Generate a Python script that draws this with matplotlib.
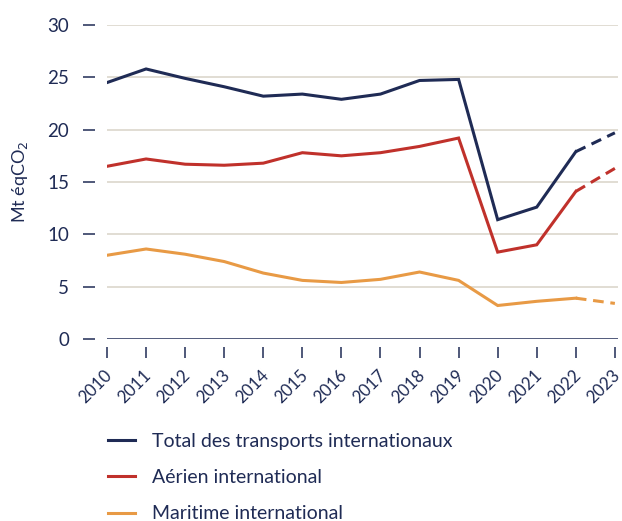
import numpy as np
import matplotlib
matplotlib.use('Agg')
import matplotlib.pyplot as plt
import matplotlib.transforms as mtransforms
from matplotlib.lines import Line2D

years = [2010, 2011, 2012, 2013, 2014, 2015, 2016, 2017, 2018, 2019, 2020, 2021, 2022, 2023]
total = [24.5, 25.8, 24.9, 24.1, 23.2, 23.4, 22.9, 23.4, 24.7, 24.8, 11.4, 12.6, 17.9, 19.7]
aerien = [16.5, 17.2, 16.7, 16.6, 16.8, 17.8, 17.5, 17.8, 18.4, 19.2, 8.3, 9.0, 14.1, 16.3]
maritime = [8.0, 8.6, 8.1, 7.4, 6.3, 5.6, 5.4, 5.7, 6.4, 5.6, 3.2, 3.6, 3.9, 3.4]
labels = ['Total des transports internationaux', 'Aérien international', 'Maritime international']

navy = '#1f2b55'
colors = ['#1f2b55', '#c0312b', '#e89a45']
plt.rcParams['font.family'] = ['Lato', 'DejaVu Sans']

fig = plt.figure(figsize=(6.22, 5.21), dpi=100)
ax = fig.add_axes([107/622, 1-339/521, (618-107)/622, (339-25)/521])

n = len(years) - 1  # last point is dashed
for vals, c in zip([total, aerien, maritime], colors):
    ax.plot(years[:n], vals[:n], color=c, lw=2.2, solid_joinstyle='miter')
    ax.plot(years[n-1:], vals[n-1:], color=c, lw=2.2, ls=(0, (3.5, 2.2)))

for y in range(5, 31, 5):
    ax.axhline(y, color='#dedad0', lw=1.3, zorder=0)
ax.axhline(0, color=navy, lw=1.8, zorder=1)

# spines moved first, it resets the ticks
for s in ax.spines.values():
    s.set_visible(False)
ax.spines['left'].set_position(('outward', 8.6))
ax.spines['bottom'].set_position(('outward', 5.5))

ax.set_xlim(2010, 2023.08)
ax.set_ylim(0, 30)
ax.set_yticks(range(0, 31, 5))
ax.set_xticks(years)
ax.tick_params(axis='y', length=8.6, width=1.1, color=navy, labelcolor=navy,
               labelsize=13.5, pad=10)
ax.tick_params(axis='x', length=8, width=1.1, color=navy, labelcolor=navy,
               labelsize=12.2, pad=11)
ax.set_xticklabels([str(y) for y in years], rotation=45, ha='right', va='center',
                   rotation_mode='anchor')
shift = mtransforms.ScaledTranslation(2/72, 0, fig.dpi_scale_trans)
for lab in ax.get_xticklabels():
    lab.set_transform(lab.get_transform() + shift)
ax.set_ylabel('Mt éqCO$_2$', color=navy, fontsize=13)
ax.yaxis.set_label_coords(-0.15, 0.5)

handles = [Line2D([], [], color=c, lw=2.2) for c in colors]
fig.legend(handles, labels, loc='upper left', bbox_to_anchor=(90/622, 1-415/521),
           frameon=False, fontsize=14, labelcolor=navy, handlelength=1.4,
           handletextpad=0.9, labelspacing=1.0)

fig.savefig('out.png', dpi=100)
